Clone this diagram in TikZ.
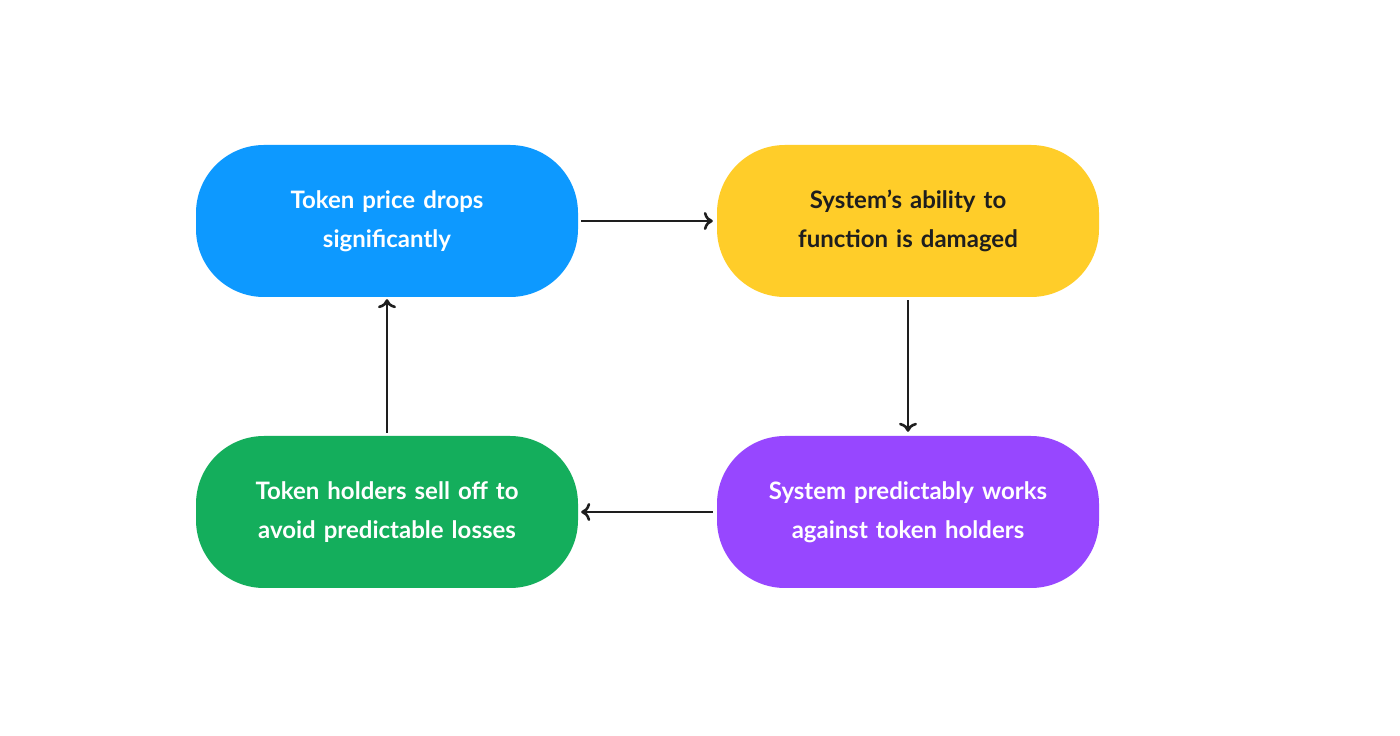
\documentclass[tikz,border=0pt]{standalone}
\usepackage{fontspec}
\setmainfont{Lato}
\usetikzlibrary{arrows.meta}
\definecolor{cblue}{HTML}{0D99FF}
\definecolor{cyellow}{HTML}{FFCD29}
\definecolor{cgreen}{HTML}{14AE5C}
\definecolor{cpurple}{HTML}{9747FF}
\definecolor{cdark}{HTML}{1E1E1E}
\begin{document}
\begin{tikzpicture}[x=1pt,y=1pt,
  box/.style={rounded corners=68pt,minimum width=382pt,minimum height=152pt,inner sep=0pt,
    align=center,font=\fontsize{24}{39}\selectfont\bfseries,text width=330pt},
  arr/.style={draw=cdark,line width=2.6pt,-{To[length=9pt,width=18pt,line width=2.6pt]}}]
\useasboundingbox[fill=white] (0,0) rectangle (1400,736);
\node[box,fill=cblue,text=white] (a) at (387,515) {Token price drops\\significantly};
\node[box,fill=cyellow,text=cdark] (b) at (908,515) {System’s ability to\\function is damaged};
\node[box,fill=cpurple,text=white] (c) at (908,224) {System predictably works\\against token holders};
\node[box,fill=cgreen,text=white] (d) at (387,224) {Token holders sell off to\\avoid predictable losses};
\draw[arr] ([xshift=3pt]a.east) -- ([xshift=-4pt]b.west);
\draw[arr] ([yshift=-3pt]b.south) -- ([yshift=4pt]c.north);
\draw[arr] ([xshift=-4pt]c.west) -- ([xshift=3pt]d.east);
\draw[arr] ([yshift=3pt]d.north) -- ([yshift=-2pt]a.south);
\end{tikzpicture}
\end{document}
